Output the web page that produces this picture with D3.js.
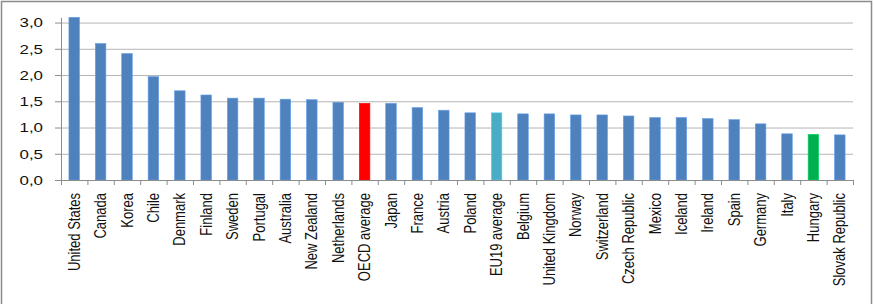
<!DOCTYPE html>
<html><head><meta charset="utf-8">
<script src="https://cdn.jsdelivr.net/npm/d3@7"></script>
<style>
html,body{margin:0;padding:0;background:#fff;}
svg{display:block;}
text{font-family:"Liberation Sans",Arial,sans-serif;fill:#111;}
</style></head>
<body>
<svg id="chart" width="874" height="304"></svg>
<script>
const categories = ["United States","Canada","Korea","Chile","Denmark","Finland","Sweden","Portugal","Australia","New Zealand","Netherlands","OECD average","Japan","France","Austria","Poland","EU19 average","Belgium","United Kingdom","Norway","Switzerland","Czech Republic","Mexico","Iceland","Ireland","Spain","Germany","Italy","Hungary","Slovak Republic"];
const values = [3.10,2.60,2.41,1.97,1.70,1.62,1.56,1.56,1.54,1.53,1.48,1.46,1.46,1.38,1.33,1.28,1.28,1.26,1.26,1.24,1.24,1.22,1.19,1.19,1.17,1.15,1.07,0.88,0.87,0.86];
const highlight = {"OECD average":"#FF0000","EU19 average":"#4BACC6","Hungary":"#00B050"};
const yTicks = [0,0.5,1.0,1.5,2.0,2.5,3.0];

(function(){
const svg = d3.select("#chart");
const W = 874, H = 304;
const mLeft = 61, mRight = 853, mTop = 17.3, mBottom = 180;

// outer frame
svg.append("path")
  .attr("d", `M1.5,${H} V1.5 H871.5 V${H}`)
  .attr("fill","none").attr("stroke","#8c8c8c").attr("stroke-width",1.5);

const y = d3.scaleLinear().domain([0,3.1]).range([mBottom, mTop]);
const x = d3.scaleBand().domain(categories).range([mLeft,mRight]).paddingInner(0.6).paddingOuter(0.3);
const xi = d3.scaleLinear().domain([0,categories.length]).range([mLeft,mRight]);

// gridlines
const grid = svg.append("g").attr("transform",`translate(${mLeft},0)`)
  .call(d3.axisLeft(y).tickValues(yTicks.filter(d=>d>0)).tickSize(-(mRight-mLeft)).tickFormat(""));
grid.select(".domain").remove();
grid.selectAll("line").attr("stroke","#b4b4b4").attr("stroke-width",1);

// bars
svg.append("g").selectAll("rect").data(categories).join("rect")
  .attr("x", d=>x(d))
  .attr("width", x.bandwidth())
  .attr("y", (d,i)=>y(values[i]))
  .attr("height", (d,i)=>y(0)-y(values[i]))
  .attr("fill", d=>highlight[d] || "#4F81BD")
  .attr("stroke", d=>d3.color(highlight[d] || "#4F81BD").brighter(0.6))
  .attr("stroke-width",0.6);

// y axis
const ya = svg.append("g").attr("transform",`translate(${mLeft},0)`)
  .call(d3.axisLeft(y).tickValues(yTicks).tickSize(6).tickSizeOuter(0).tickPadding(12)
    .tickFormat(d=>d3.format(".1f")(d).replace(".",",")));
ya.select(".domain").attr("stroke","#8c8c8c");
ya.selectAll(".tick line").attr("stroke","#8c8c8c");
ya.selectAll(".tick text")
  .attr("font-size",13.5)
  .attr("font-family","Liberation Sans, Arial, sans-serif")
  .attr("fill","#111")
  .each(function(){
    const t = d3.select(this);
    const xx = +t.attr("x");
    t.attr("x", null).attr("transform", `translate(${xx},0) scale(1.25,1)`);
  });

// x axis ticks at boundaries
const xa = svg.append("g").attr("transform",`translate(0,${mBottom})`)
  .call(d3.axisBottom(xi).tickValues(d3.range(categories.length+1)).tickSize(5).tickSizeOuter(0).tickFormat(""));
xa.select(".domain").attr("stroke","#8c8c8c");
xa.selectAll(".tick line").attr("stroke","#8c8c8c");

// x labels
svg.append("g").selectAll("text").data(categories).join("text")
  .attr("transform", d=>`translate(${x(d)+x.bandwidth()/2},193) scale(1.22,1) rotate(-90)`)
  .attr("text-anchor","end")
  .attr("dy","0.35em")
  .attr("font-size",13)
  .text(d=>d);
})();
</script>
</body></html>
